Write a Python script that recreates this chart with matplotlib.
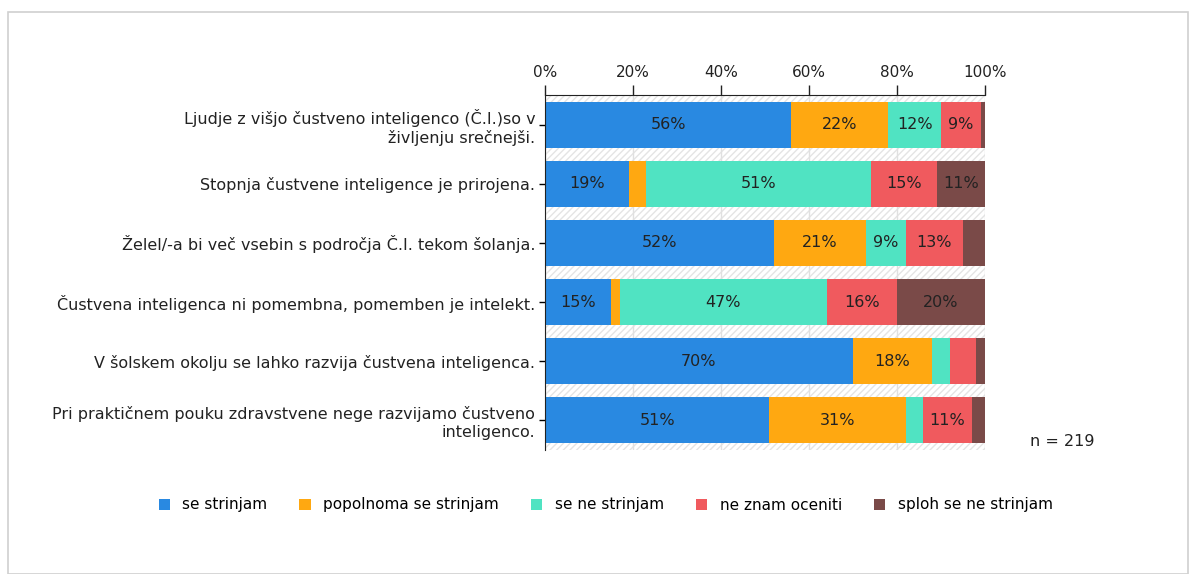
import matplotlib.pyplot as plt
import matplotlib.patches as patches
import numpy as np

plt.rcParams['font.family'] = ['DejaVu Sans']

statements = [
    "Ljudje z višjo čustveno inteligenco (Č.I.)so v\nživljenju srečnejši.",
    "Stopnja čustvene inteligence je prirojena.",
    "Želel/-a bi več vsebin s področja Č.I. tekom šolanja.",
    "Čustvena inteligenca ni pomembna, pomemben je intelekt.",
    "V šolskem okolju se lahko razvija čustvena inteligenca.",
    "Pri praktičnem pouku zdravstvene nege razvijamo čustveno\ninteligenco.",
]
answers = ["se strinjam", "popolnoma se strinjam", "se ne strinjam",
           "ne znam oceniti", "sploh se ne strinjam"]

se_strinjam = [56, 19, 52, 15, 70, 51]
popolnoma = [22, 4, 21, 2, 18, 31]
se_ne_strinjam = [12, 51, 9, 47, 4, 4]
ne_znam = [9, 15, 13, 16, 6, 11]
sploh_ne = [2, 11, 5, 20, 2, 3]

colors = ["#2989E1", "#FFA811", "#50E3C2", "#F05A5E", "#7A4A48"]
n_label = "n = 219"

series = [se_strinjam, popolnoma, se_ne_strinjam, ne_znam, sploh_ne]

fig = plt.figure(figsize=(11.92, 5.74), dpi=100)
ax = fig.add_axes([545 / 1192, 1 - 450 / 574, 440 / 1192, 355 / 574])

# grey frame around the whole chart
fig.patches.append(patches.Rectangle((8 / 1192, 0), 1180 / 1192, 1 - 12 / 574,
                                     transform=fig.transFigure, fill=False,
                                     edgecolor="#d0d0d0", linewidth=1.2))

# hatched plot background
ax.add_patch(patches.Rectangle((0, -0.5), 100, 6, facecolor="white",
                               edgecolor="#e4e4e4", hatch="/////",
                               linewidth=0, zorder=0))

y = np.arange(len(statements))
left = np.zeros(len(statements))
for vals, name, c in zip(series, answers, colors):
    vals = np.array(vals, dtype=float)
    bars = ax.barh(y, vals, left=left, height=0.78, color=c, label=name, zorder=2)
    for b, v in zip(bars, vals):
        if v >= 8:
            ax.text(b.get_x() + b.get_width() / 2, b.get_y() + b.get_height() / 2,
                    f"{int(v)}%", ha="center", va="center", fontsize=11.5,
                    color="#222222", zorder=3)
    left += vals

ax.set_xlim(0, 100)
ax.set_ylim(5.5, -0.5)
ax.set_xticks(range(0, 101, 20))
ax.set_xticklabels([f"{t}%" for t in range(0, 101, 20)], fontsize=11)
ax.xaxis.tick_top()
ax.tick_params(axis="x", direction="out", length=7, width=1, pad=4, colors="#222222")
ax.set_yticks(y)
ax.set_yticklabels(statements, fontsize=11.5, color="#222222")
ax.tick_params(axis="y", direction="out", length=4, width=1, pad=3)
ax.grid(axis="x", color="#e0e0e0", linewidth=1, zorder=1)
ax.set_axisbelow(True)
for s in ["right", "bottom"]:
    ax.spines[s].set_visible(False)
ax.spines["top"].set_color("#222222")
ax.spines["left"].set_color("#222222")

fig.text(1030 / 1192, 1 - 441 / 574, n_label, fontsize=11.5, va="center", color="#222222")

fig.legend(loc="center", bbox_to_anchor=(0.508, 1 - 505 / 574), ncol=5,
           frameon=False, fontsize=11, handlelength=0.75, handleheight=0.75,
           columnspacing=2.1, handletextpad=0.8)

fig.savefig("out.png", dpi=100, facecolor="white")
